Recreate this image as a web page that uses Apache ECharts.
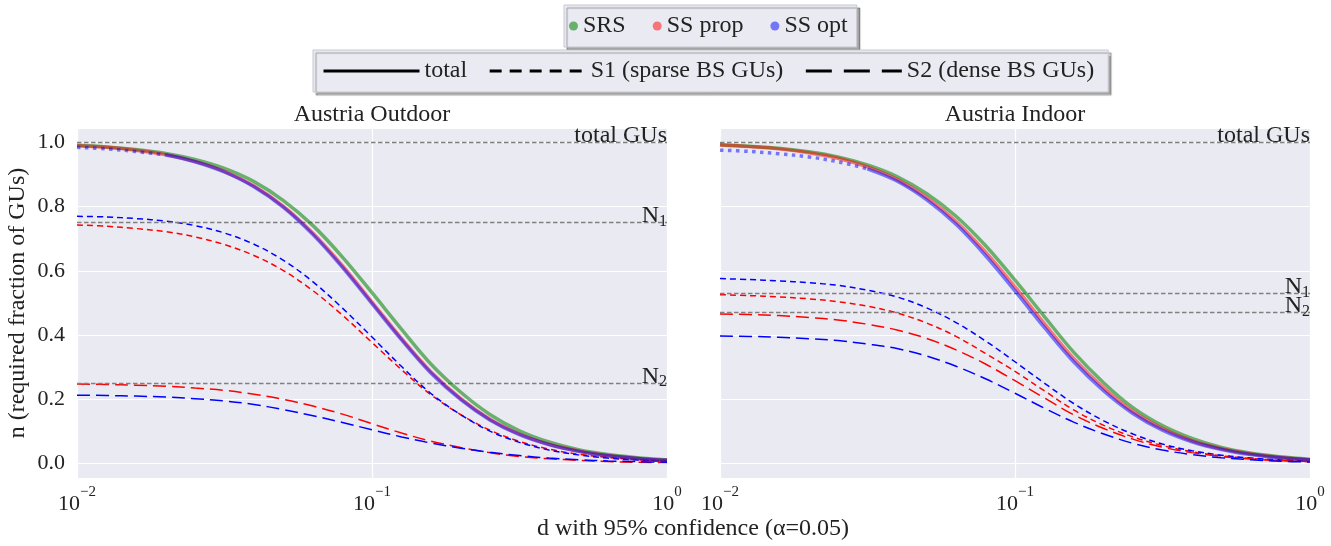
<!DOCTYPE html>
<html>
<head>
<meta charset="utf-8">
<script src="https://cdn.jsdelivr.net/npm/echarts@6.0.0/dist/echarts.min.js"></script>
<style>
html, body { margin: 0; padding: 0; background: #fff; }
#chart { width: 1331px; height: 546px; }
</style>
</head>
<body>
<div id="chart"></div>
<script>
// d values (x axis, log scale)
var dValues = [0.01, 0.0126, 0.0158, 0.02, 0.0251, 0.0316, 0.0398, 0.0501, 0.0631, 0.0794, 0.1,
               0.126, 0.158, 0.2, 0.251, 0.316, 0.398, 0.501, 0.631, 0.794, 1];

var panelTitles = ['Austria Outdoor', 'Austria Indoor'];

// Austria Outdoor
var outSRS   = [0.991, 0.986, 0.978, 0.966, 0.947, 0.919, 0.878, 0.819, 0.741, 0.643, 0.532, 0.418, 0.311, 0.222, 0.153, 0.102, 0.067, 0.043, 0.028, 0.018, 0.011];
var outProp  = [0.990, 0.985, 0.976, 0.962, 0.941, 0.910, 0.864, 0.801, 0.717, 0.616, 0.503, 0.389, 0.287, 0.202, 0.138, 0.092, 0.060, 0.039, 0.025, 0.016, 0.010];
var outOptDot = [0.985, 0.980, 0.972, 0.961, null, null, null, null, null, null, null, null, null, null, null, null, null, null, null, null, null];
var outOpt   = [null, null, null, 0.961, 0.940, 0.908, 0.862, 0.798, 0.713, 0.611, 0.498, 0.385, 0.283, 0.199, 0.136, 0.090, 0.059, 0.038, 0.024, 0.016, 0.010];
var outS1Prop = [0.743, 0.739, 0.732, 0.722, 0.706, 0.682, 0.648, 0.601, 0.538, 0.462, 0.377, 0.292, 0.215, 0.152, 0.104, 0.069, 0.045, 0.029, 0.019, 0.012, 0.008];
var outS2Prop = [0.248, 0.246, 0.244, 0.241, 0.235, 0.228, 0.216, 0.200, 0.179, 0.154, 0.124, 0.095, 0.070, 0.050, 0.034, 0.022, 0.015, 0.010, 0.006, 0.004, 0.003];
var outS1Opt  = [0.770, 0.768, 0.763, 0.755, 0.741, 0.718, 0.683, 0.633, 0.566, 0.484, 0.394, 0.302, 0.219, 0.152, 0.101, 0.066, 0.042, 0.027, 0.017, 0.011, 0.007];
var outS2Opt  = [0.213, 0.212, 0.210, 0.207, 0.202, 0.195, 0.184, 0.168, 0.149, 0.128, 0.105, 0.083, 0.064, 0.048, 0.035, 0.025, 0.017, 0.012, 0.008, 0.006, 0.004];
var outRefs = [1, 0.75, 0.25];

// Austria Indoor
var inSRS   = [0.993, 0.988, 0.982, 0.971, 0.955, 0.930, 0.894, 0.841, 0.770, 0.679, 0.571, 0.457, 0.347, 0.251, 0.174, 0.118, 0.078, 0.050, 0.032, 0.021, 0.013];
var inProp  = [0.992, 0.987, 0.980, 0.968, 0.951, 0.924, 0.885, 0.829, 0.754, 0.659, 0.550, 0.435, 0.327, 0.235, 0.162, 0.109, 0.071, 0.046, 0.030, 0.019, 0.012];
var inOptDot = [0.976, 0.972, 0.965, 0.955, 0.940, 0.918, null, null, null, null, null, null, null, null, null, null, null, null, null, null, null];
var inOpt   = [null, null, null, null, null, 0.918, 0.880, 0.822, 0.745, 0.648, 0.538, 0.423, 0.317, 0.226, 0.156, 0.104, 0.068, 0.044, 0.028, 0.018, 0.012];
var inS1Prop = [0.526, 0.523, 0.519, 0.513, 0.504, 0.490, 0.469, 0.438, 0.396, 0.343, 0.287, 0.226, 0.167, 0.119, 0.083, 0.056, 0.037, 0.024, 0.016, 0.010, 0.006];
var inS2Prop = [0.466, 0.464, 0.461, 0.455, 0.447, 0.434, 0.416, 0.390, 0.354, 0.310, 0.258, 0.204, 0.152, 0.109, 0.076, 0.051, 0.034, 0.022, 0.014, 0.009, 0.006];
var inS1Opt  = [0.576, 0.573, 0.569, 0.563, 0.555, 0.540, 0.519, 0.485, 0.439, 0.382, 0.317, 0.250, 0.187, 0.133, 0.092, 0.061, 0.040, 0.026, 0.017, 0.011, 0.007];
var inS2Opt  = [0.397, 0.396, 0.393, 0.389, 0.383, 0.372, 0.358, 0.335, 0.303, 0.264, 0.219, 0.172, 0.129, 0.092, 0.063, 0.042, 0.028, 0.018, 0.012, 0.007, 0.005];
var inRefs = [1, 0.53, 0.47];

var refText = ['{t|total GUs}', '{n|N}{s|1}', '{n|N}{s|2}'];

var FONT = 'Liberation Serif';
var TXT = '#222';
var GREEN = 'rgba(0,128,0,0.55)';
var RED = 'rgba(255,0,0,0.5)';
var BLUE = 'rgba(0,0,255,0.5)';
var DASH_S1 = [6, 4];
var DASH_S2 = [13, 6];

var chart = echarts.init(document.getElementById('chart'));

function pts(ys) {
  var out = [];
  for (var i = 0; i < dValues.length; i++) {
    if (ys[i] !== null) out.push([dValues[i], ys[i]]);
  }
  return out;
}

function curve(name, gi, ys, color, width, dash, z) {
  return {
    name: name, type: 'line', xAxisIndex: gi, yAxisIndex: gi,
    data: pts(ys), smooth: 0.35, symbol: 'none', z: z,
    color: color,
    lineStyle: { color: color, width: width, type: dash, cap: 'butt' },
    emphasis: { disabled: true }
  };
}

function refMarks(vals) {
  return {
    silent: true, symbol: 'none', animation: false,
    lineStyle: { color: '#808080', width: 1.4, type: [4.5, 2.5] },
    label: {
      position: 'insideEndTop', distance: [0, -5], color: TXT,
      rich: {
        t: { fontFamily: FONT, fontSize: 24, lineHeight: 24, color: TXT },
        n: { fontFamily: FONT, fontSize: 24, lineHeight: 24, verticalAlign: 'top', color: TXT },
        s: { fontFamily: FONT, fontSize: 16, lineHeight: 16, padding: [10, 0, 0, 0], verticalAlign: 'top', color: TXT }
      }
    },
    data: vals.map(function (v, i) {
      return { yAxis: v, label: { formatter: refText[i] } };
    })
  };
}

function panelSeries(gi, srs, prop, optDot, opt, s1p, s2p, s1o, s2o, refs) {
  var a = curve('SRS', gi, srs, GREEN, 3.5, 'solid', 5);
  a.markLine = refMarks(refs);
  return [
    a,
    curve('SS prop', gi, prop, RED, 3.5, 'solid', 5),
    curve('SS opt', gi, optDot, BLUE, 3.5, [3.5, 4.5], 5),
    curve('SS opt', gi, opt, BLUE, 3.5, 'solid', 5),
    curve('SS prop S1', gi, s1p, '#ff0000', 1.5, DASH_S1, 4),
    curve('SS opt S1', gi, s1o, '#0000ff', 1.5, DASH_S1, 4),
    curve('SS prop S2', gi, s2p, '#ff0000', 1.5, DASH_S2, 4),
    curve('SS opt S2', gi, s2o, '#0000ff', 1.5, DASH_S2, 4)
  ];
}

var series = []
  .concat(panelSeries(0, outSRS, outProp, outOptDot, outOpt, outS1Prop, outS2Prop, outS1Opt, outS2Opt, outRefs))
  .concat(panelSeries(1, inSRS, inProp, inOptDot, inOpt, inS1Prop, inS2Prop, inS1Opt, inS2Opt, inRefs));

// legend-only entries for line styles
['total', 'S1 (sparse BS GUs)', 'S2 (dense BS GUs)'].forEach(function (n) {
  series.push({ name: n, type: 'line', data: [], symbol: 'none', color: '#000', lineStyle: { color: '#000', width: 3 } });
});

function xAxis(gi) {
  return {
    type: 'log', logBase: 10, min: 0.01, max: 1, gridIndex: gi,
    axisLine: { show: false }, axisTick: { show: false },
    splitLine: { show: true, lineStyle: { color: '#fff', width: 1.2 } },
    minorSplitLine: { show: false },
    axisLabel: {
      margin: 7,
      formatter: function (v) {
        var e = Math.round(Math.log10(v));
        return '{b|10}{p|' + (e < 0 ? '\u2212' + (-e) : e) + '}';
      },
      rich: {
        b: { fontFamily: FONT, fontSize: 22, lineHeight: 22, padding: [8, 0, 0, 0], verticalAlign: 'top', color: TXT },
        p: { fontFamily: FONT, fontSize: 15, lineHeight: 15, verticalAlign: 'top', color: TXT }
      }
    }
  };
}

function yAxis(gi) {
  return {
    type: 'value', min: -0.045, max: 1.045, splitNumber: 5, gridIndex: gi,
    axisLine: { show: false }, axisTick: { show: false },
    splitLine: { show: true, lineStyle: { color: '#fff', width: 1.2 } },
    name: gi === 0 ? 'n (required fraction of GUs)' : '',
    nameLocation: 'middle', nameGap: 47,
    nameTextStyle: { fontFamily: FONT, fontSize: 24, color: TXT },
    axisLabel: {
      show: gi === 0, margin: 12, showMinLabel: false, showMaxLabel: false,
      fontFamily: FONT, fontSize: 22, color: TXT,
      formatter: function (v) { return v.toFixed(1); }
    }
  };
}

var legendBox = {
  backgroundColor: '#eaeaf2', borderColor: '#c8c8d0', borderWidth: 1,
  shadowColor: 'rgba(0,0,0,0.35)', shadowOffsetX: 3, shadowOffsetY: 3, shadowBlur: 1,
  textStyle: { fontFamily: FONT, fontSize: 24, color: TXT },
  selectedMode: false
};

var option = {
  animation: false,
  grid: [
    { left: 77, top: 128, width: 590, height: 350, show: true, backgroundColor: '#eaeaf2', borderWidth: 0 },
    { left: 720, top: 128, width: 590, height: 350, show: true, backgroundColor: '#eaeaf2', borderWidth: 0 }
  ],
  xAxis: [xAxis(0), xAxis(1)],
  yAxis: [yAxis(0), yAxis(1)],
  legend: [
    Object.assign({}, legendBox, {
      data: ['SRS', 'SS prop', 'SS opt'],
      left: 564, top: 5, padding: [9, 9, 9, 5],
      icon: 'circle', itemWidth: 9, itemHeight: 9, itemGap: 27
    }),
    Object.assign({}, legendBox, {
      data: [
        { name: 'total', itemStyle: { opacity: 0 }, lineStyle: { type: 'solid' } },
        { name: 'S1 (sparse BS GUs)', itemStyle: { opacity: 0 }, lineStyle: { type: [12, 8] } },
        { name: 'S2 (dense BS GUs)', itemStyle: { opacity: 0 }, lineStyle: { type: [26, 12] } }
      ],
      left: 313, top: 50, padding: [9, 14, 9, 9],
      itemWidth: 96, itemHeight: 16, itemGap: 21,
      lineStyle: { width: 3, color: '#000' }
    })
  ],
  graphic: [
    { type: 'text', x: 372, y: 115, style: { text: panelTitles[0], align: 'center', verticalAlign: 'middle', fontFamily: FONT, fontSize: 24, fill: TXT } },
    { type: 'text', x: 1015, y: 115, style: { text: panelTitles[1], align: 'center', verticalAlign: 'middle', fontFamily: FONT, fontSize: 24, fill: TXT } },
    { type: 'text', x: 693, y: 529, style: { text: 'd with 95% confidence (\u03b1=0.05)', align: 'center', verticalAlign: 'middle', fontFamily: FONT, fontSize: 24, fill: TXT } }
  ],
  series: series
};

chart.setOption(option);
</script>
</body>
</html>
